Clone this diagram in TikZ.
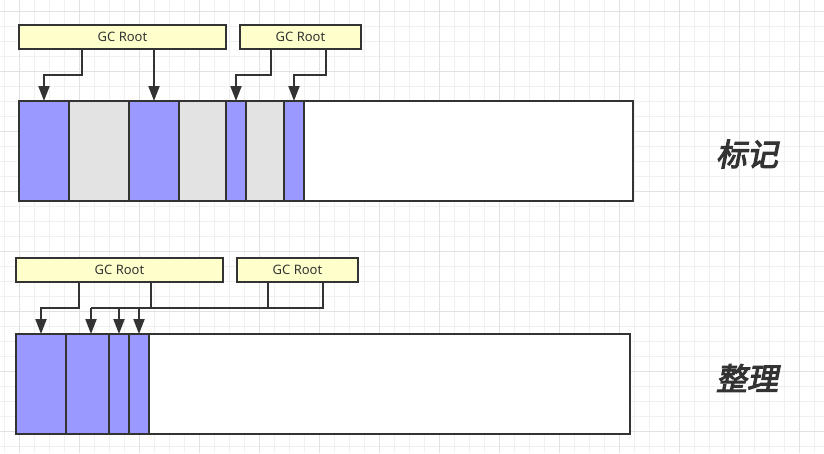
\documentclass[tikz,border=0pt]{standalone}
\usepackage{fontspec}
\setmainfont{Noto Sans}
\newfontfamily\cjk[FakeSlant=0.2,FakeBold=3.5]{Noto Sans CJK SC}
\usetikzlibrary{arrows.meta}
\definecolor{edge}{HTML}{333333}
\definecolor{live}{HTML}{9999FF}
\definecolor{dead}{HTML}{E3E3E3}
\definecolor{rootfill}{HTML}{FFFFCC}
\definecolor{gridminor}{HTML}{F0F0F0}
\definecolor{gridmajor}{HTML}{E2E2E2}
\tikzset{
  cell/.style={draw=edge,line width=2pt,inner sep=0pt,outer sep=0pt,minimum height=100pt,anchor=north west},
  livecell/.style={cell,fill=live},
  deadcell/.style={cell,fill=dead},
  freecell/.style={cell,fill=white},
  rootbox/.style={draw=edge,line width=2pt,fill=rootfill,inner sep=0pt,outer sep=0pt,minimum height=24pt,anchor=north west,font=\fontsize{13pt}{15pt}\selectfont,text=edge},
  link/.style={draw=edge,line width=2pt},
  ptr/.style={draw=edge,line width=2pt,-{Triangle[width=11pt,length=15pt]}},
  title/.style={font=\cjk\fontsize{31pt}{34pt}\selectfont,text=edge}
}
\begin{document}
\begin{tikzpicture}[x=1pt,y=-1pt]
\useasboundingbox (0,0) rectangle (824,453);
\fill[white] (0,0) rectangle (824,453);
% grid
\foreach \x in {4,19,...,824} \draw[gridminor,line width=1pt] (\x,0) -- (\x,453);
\foreach \y in {11,26,...,453} \draw[gridminor,line width=1pt] (0,\y) -- (824,\y);
\foreach \x in {19,79,...,824} \draw[gridmajor,line width=1pt] (\x,0) -- (\x,453);
\foreach \y in {11,71,...,453} \draw[gridmajor,line width=1pt] (0,\y) -- (824,\y);

% ---------- top: mark ----------
\node[rootbox,minimum width=207pt] (r1) at (19,25) {GC Root};
\node[rootbox,minimum width=121pt] (r2) at (240,25) {GC Root};
\node[freecell,minimum width=329pt] (t8) at (304,101) {};
\node[livecell,minimum width=50pt] (t1) at (19,101) {};
\node[deadcell,minimum width=60pt] (t2) at (69,101) {};
\node[livecell,minimum width=50pt] (t3) at (129,101) {};
\node[deadcell,minimum width=47pt] (t4) at (179,101) {};
\node[livecell,minimum width=20pt] (t5) at (226,101) {};
\node[deadcell,minimum width=38pt] (t6) at (246,101) {};
\node[livecell,minimum width=20pt] (t7) at (284,101) {};

\draw[ptr] (r1.south -| 82,0) |- (44,75) -- (t1.north -| 44,0);
\draw[ptr] (r1.south -| 154,0) -- (t3.north -| 154,0);
\draw[ptr] (r2.south -| 271,0) |- (236,75) -- (t5.north -| 236,0);
\draw[ptr] (r2.south -| 326,0) |- (294,75) -- (t7.north -| 294,0);

\node[title] (mark) at (747,154) {标记};

% ---------- bottom: compact ----------
\node[rootbox,minimum width=207pt] (s1) at (16,258) {GC Root};
\node[rootbox,minimum width=121pt] (s2) at (237,258) {GC Root};
\node[freecell,minimum width=481pt] (b5) at (149,334) {};
\node[livecell,minimum width=50pt] (b1) at (16,334) {};
\node[livecell,minimum width=43pt] (b2) at (66,334) {};
\node[livecell,minimum width=20pt] (b3) at (109,334) {};
\node[livecell,minimum width=20pt] (b4) at (129,334) {};

\coordinate (j) at (91,308);
\draw[ptr] (s1.south -| 79,0) |- (41,308) -- (b1.north -| 41,0);
\draw[link] (s1.south -| 151,0) -- (151,308);
\draw[link,line width=1.5pt] (s2.south -| 268,0) -- (268,308);
\draw[link] (s2.south -| 323,0) |- (j);
\draw[ptr] (j) -- (b2.north -| 91,0);
\draw[ptr] (119,308) -- (b3.north -| 119,0);
\draw[ptr] (139,308) -- (b4.north -| 139,0);

\node[title] (compact) at (747,378) {整理};
\end{tikzpicture}
\end{document}
